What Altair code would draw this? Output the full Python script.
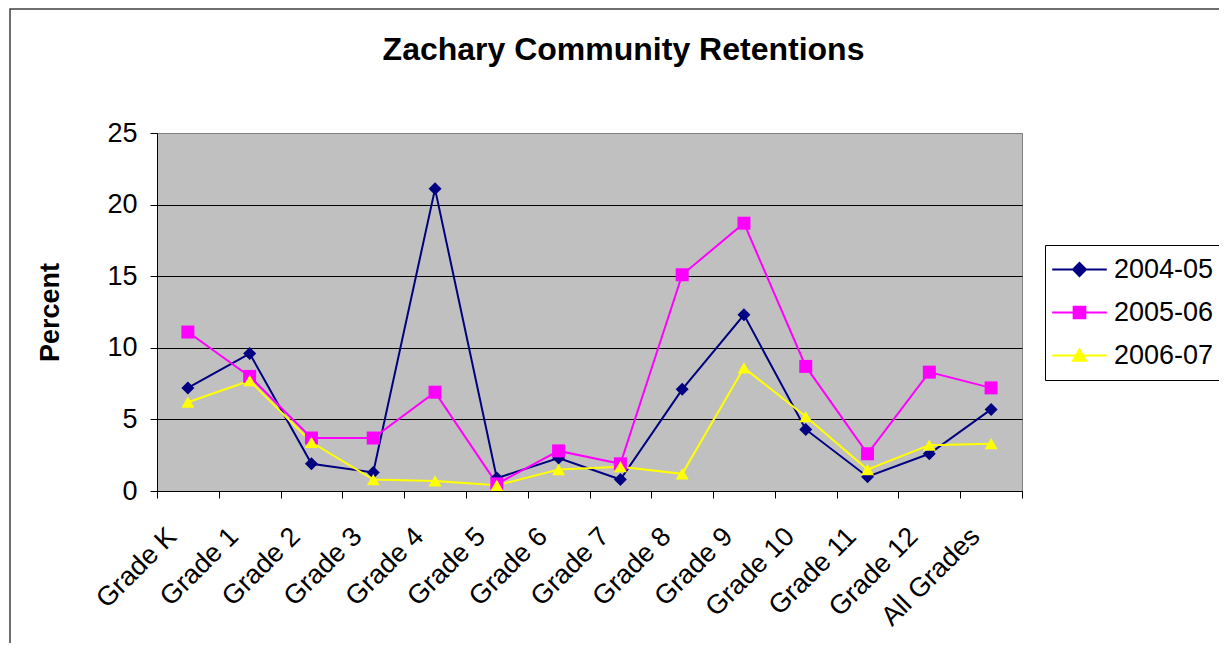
import altair as alt
import pandas as pd

grades = ["Grade K", "Grade 1", "Grade 2", "Grade 3", "Grade 4", "Grade 5", "Grade 6",
          "Grade 7", "Grade 8", "Grade 9", "Grade 10", "Grade 11", "Grade 12", "All Grades"]
series_names = ["2004-05", "2005-06", "2006-07"]
v2004 = [7.2, 9.6, 1.9, 1.3, 21.1, 0.9, 2.3, 0.8, 7.1, 12.3, 4.3, 1.0, 2.6, 5.7]
v2005 = [11.1, 8.0, 3.7, 3.7, 6.9, 0.5, 2.8, 1.9, 15.1, 18.7, 8.7, 2.6, 8.3, 7.2]
v2006 = [6.2, 7.7, 3.4, 0.8, 0.7, 0.4, 1.5, 1.7, 1.2, 8.6, 5.2, 1.5, 3.2, 3.3]
y_ticks = [0, 5, 10, 15, 20, 25]

colors = ["#000080", "#FF00FF", "#FFFF00"]
shapes = ["diamond", "square", "triangle-up"]
legend_paths = [
    "M-4.2,0H4.2M0,-1L1,0L0,1L-1,0Z",
    "M-4.2,0H4.2M-0.9,-0.9H0.9V0.9H-0.9Z",
    "M-4.2,0H4.2M0,-0.95L1,0.8H-1Z",
]

rows = []
for name, vals in zip(series_names, [v2004, v2005, v2006]):
    for g, v in zip(grades, vals):
        rows.append({"grade": g, "series": name, "value": v})
df = pd.DataFrame(rows)

FONT = "Liberation Sans"

x_enc = alt.X(
    "grade:N", sort=grades,
    scale=alt.Scale(paddingInner=0, paddingOuter=0),
    axis=alt.Axis(title=None, labelAngle=-45, labelAlign="right", labelBaseline="middle",
                  labelFontSize=27, labelFont=FONT, labelColor="black", labelPadding=34,
                  labelOffset=-16, tickBand="extent", tickSize=7, tickColor="black",
                  domainColor="black", grid=False, labelOverlap=False),
)
y_enc = alt.Y(
    "value:Q", scale=alt.Scale(domain=[0, 25], nice=False),
    axis=alt.Axis(values=y_ticks, title="Percent", titleFont=FONT, titleFontSize=27,
                  titleFontWeight="bold", titleColor="black", titlePadding=42,
                  labelFontSize=27, labelFont=FONT, labelColor="black", labelPadding=13,
                  tickSize=7, tickColor="black", domainColor="black",
                  gridColor={"condition": {"test": "datum.value === 25", "value": "#808080"},
                             "value": "black"}),
)

color_scale = alt.Scale(domain=series_names, range=colors)
base = alt.Chart(df)

leg = alt.Legend(
    orient="none", legendX=888, legendY=112, title=None, padding=11, rowPadding=15,
    strokeColor="black", fillColor="white", labelFontSize=27, labelFont=FONT,
    labelColor="black", symbolSize=169, symbolOffset=10, labelOffset=21,
    symbolStrokeWidth=2, symbolOpacity=1,
)
legend_layer = base.transform_filter("false").mark_point(filled=True, size=169, opacity=1).encode(
    x=x_enc, y=y_enc,
    color=alt.Color("series:N", scale=color_scale, legend=leg),
    stroke=alt.Stroke("series:N", scale=alt.Scale(domain=series_names, range=colors), legend=leg),
    shape=alt.Shape("series:N", scale=alt.Scale(domain=series_names, range=legend_paths), legend=leg),
)

lines = base.mark_line(strokeWidth=2).encode(
    x=x_enc, y=y_enc,
    color=alt.Color("series:N", scale=color_scale, legend=None),
)

point_layers = []
for name, shp in zip(series_names, shapes):
    point_layers.append(
        base.transform_filter(alt.datum.series == name)
        .mark_point(filled=True, size=169, opacity=1, shape=shp)
        .encode(x=x_enc, y=y_enc,
                color=alt.Color("series:N", scale=color_scale, legend=None))
    )

frame = alt.Chart(pd.DataFrame({"a": [0]})).mark_rect(filled=False, stroke="#404040", strokeWidth=1.5).encode(
    x=alt.value(-147), x2=alt.value(1085), y=alt.value(-124), y2=alt.value(700)
)

chart = alt.layer(legend_layer, frame, lines, *point_layers).properties(
    width=865, height=358,
    background="white",
    title=alt.TitleParams("Zachary Community Retentions", fontSize=32, font=FONT,
                          fontWeight="bold", color="black", anchor="middle", dx=34,
                          offset=-84, baseline="alphabetic"),
    autosize=alt.AutoSizeParams(type="none"),
    padding={"left": 149, "top": 125, "right": 197, "bottom": 152},
).configure_view(fill="#C0C0C0", stroke="#808080", strokeWidth=1)

chart.save("out.html", embed_options={"renderer": "svg", "actions": False})
